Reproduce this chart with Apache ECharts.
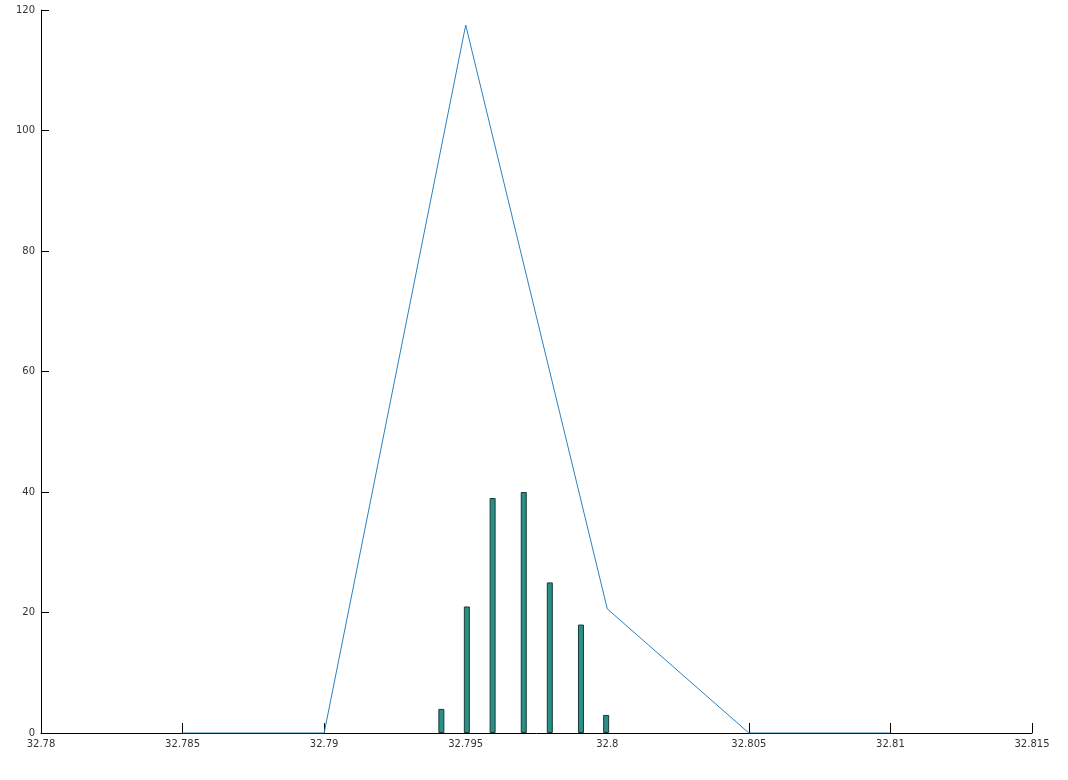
<!DOCTYPE html>
<html><head><meta charset="utf-8">
<script src="https://cdn.jsdelivr.net/npm/echarts@6/dist/echarts.min.js"></script>
<style>html,body{margin:0;padding:0;background:#fff}#c{width:1068px;height:780px}</style>
</head><body><div id="c"></div>
<script>
const barX = [32.79414, 32.79504, 32.79595, 32.79705, 32.79797, 32.79907, 32.79996];
const barY = [4, 21, 39, 40, 25, 18, 3];
const lineX = [32.785, 32.79, 32.795, 32.8, 32.805, 32.81];
const lineY = [0, 0, 117.5, 20.6, 0, 0];
const xTicks = [32.78, 32.785, 32.79, 32.795, 32.8, 32.805, 32.81, 32.815];
const yTicks = [0, 20, 40, 60, 80, 100, 120];

const chart = echarts.init(document.getElementById('c'), null, {renderer: 'canvas'});
const fontFam = 'DejaVu Sans, Verdana, sans-serif';
chart.setOption({
  animation: false,
  grid: {left: 41, right: 36, top: 10, bottom: 47, containLabel: false},
  xAxis: {
    type: 'value', min: xTicks[0], max: xTicks[xTicks.length - 1], interval: 0.005,
    axisLine: {lineStyle: {color: '#000', width: 1}},
    axisTick: {inside: true, length: 10, lineStyle: {color: '#000'}},
    splitLine: {show: false},
    axisLabel: {color: '#333', fontFamily: fontFam, fontSize: 10, margin: 6,
      formatter: v => String(parseFloat(v.toFixed(3)))}
  },
  yAxis: {
    type: 'value', min: yTicks[0], max: yTicks[yTicks.length - 1], interval: 20,
    axisLine: {show: true, lineStyle: {color: '#000', width: 1}},
    axisTick: {show: true, inside: true, length: 8, lineStyle: {color: '#000'}},
    splitLine: {show: false},
    axisLabel: {color: '#333', fontFamily: fontFam, fontSize: 10, margin: 6}
  },
  series: [
    {
      type: 'bar', barWidth: 6,
      data: barX.map((x, i) => [x, barY[i]]),
      itemStyle: {color: '#2a9086', borderColor: '#173b38', borderWidth: 1}
    },
    {
      type: 'line', symbol: 'none',
      data: lineX.map((x, i) => [x, lineY[i]]),
      lineStyle: {color: '#2a82c0', width: 1}
    }
  ]
});
</script></body></html>
